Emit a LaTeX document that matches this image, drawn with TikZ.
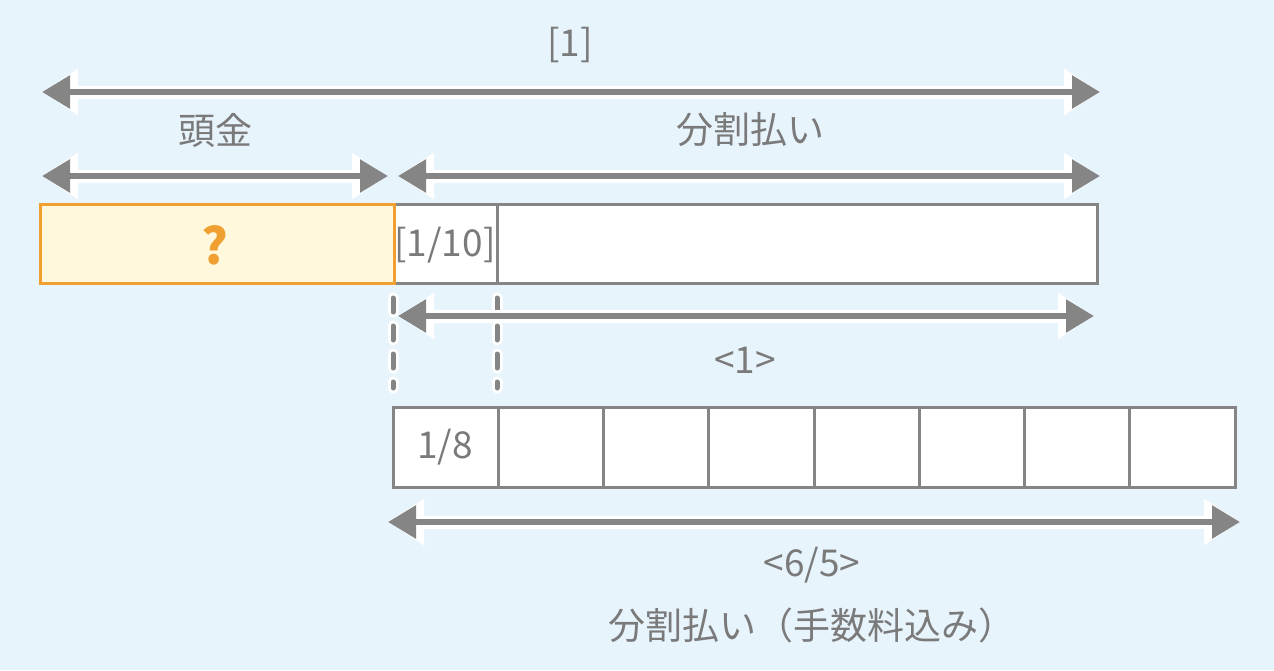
\documentclass[tikz,border=0pt]{standalone}
\usepackage{fontspec}
\setmainfont{Noto Sans CJK JP}
\usetikzlibrary{arrows.meta}
\definecolor{bg}{HTML}{E8F4FC}
\definecolor{gr}{HTML}{858585}
\definecolor{tx}{HTML}{7A7A7A}
\definecolor{org}{HTML}{F0A030}
\definecolor{cream}{HTML}{FFF8DC}
\tikzset{
  dim/.style={draw=gr,line width=6pt,{Triangle[length=28pt,width=32pt]}-{Triangle[length=28pt,width=32pt]},
    preaction={draw=white,line width=13pt,{Triangle[length=36pt,width=44pt]}-{Triangle[length=36pt,width=44pt]}}},
  lbl/.style={text=tx,font=\fontsize{37pt}{42pt}\selectfont,inner sep=1pt},
  box/.style={draw=gr,line width=3pt},
}
\begin{document}
\begin{tikzpicture}[x=1pt,y=-1pt]
\fill[bg] (0,0) rectangle (1274,670);
\useasboundingbox (0,0) rectangle (1274,670);
\coordinate (a1) at (42,92); \coordinate (a2) at (1100,92);
\coordinate (b1) at (42,176); \coordinate (b2) at (388,176);
\coordinate (c1) at (398,176); \coordinate (c2) at (1100,176);
\coordinate (d1) at (398,316); \coordinate (d2) at (1094,316);
\coordinate (e1) at (388,522); \coordinate (e2) at (1240,522);
\draw[dim] (a1) -- (a2);
\draw[dim] (b1) -- (b2);
\draw[dim] (c1) -- (c2);
\node[lbl] (t1) at (570,45) {[1]};
\node[lbl] (t2) at (215,130) {頭金};
\node[lbl] (t3) at (750,130) {分割払い};
% boxes
\draw[box,fill=white] (394,204) rectangle (1097,283);
\draw[box] (497,204) -- (497,283);
\node[lbl,fill=white,inner sep=0pt] (t4) at (445,245) {[1/10]};
\draw[draw=org,fill=cream,line width=3pt] (40,204) rectangle (394,283);
\node[text=org,font=\fontsize{50pt}{54pt}\selectfont\bfseries] (q) at (215,245) {?};
% dashed
\foreach \x in {393,497}{
  \draw[white,line width=11pt,line cap=round,dash pattern=on 14pt off 14pt] (\x,298) -- (\x,388);
  \draw[gr,line width=5pt,line cap=round,dash pattern=on 14pt off 14pt] (\x,298) -- (\x,388);
}
\draw[dim] (d1) -- (d2);
\node[lbl] (t5) at (745,360) {<1>};
% bottom row
\foreach \i in {0,...,7}{
  \draw[box,fill=white] ({393+\i*105.25},407) rectangle ({393+(\i+1)*105.25},487);
}
\node[lbl] (t6) at (445,447) {1/8};
\draw[dim] (e1) -- (e2);
\node[lbl] (t7) at (812,565) {<6/5>};
\node[lbl] (t8) at (812,625) {分割払い（手数料込み）};
\end{tikzpicture}
\end{document}
